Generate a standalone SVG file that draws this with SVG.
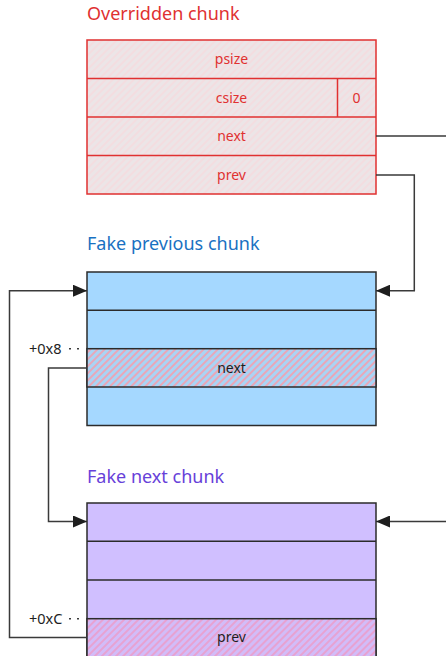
<svg xmlns="http://www.w3.org/2000/svg" width="446" height="656" viewBox="0 0 446 656">
  <style>
    text { font-family: "Noto Sans", "Liberation Sans", sans-serif; }
    .title { font-size: 18px; }
    .lbl { font-size: 14px; text-anchor: middle; }
    .off { font-size: 14.5px; fill: #1e1e1e; }
    .red-box { stroke: #e03131; stroke-width: 1.5; }
    .dark-box { stroke: #2b2b2b; stroke-width: 1.5; }
    .conn { fill: none; stroke: #3a3a3a; stroke-width: 1.5; }
    .dots { stroke: #3a3a3a; stroke-width: 1.5; stroke-dasharray: 2 6; }
  </style>
  <defs>
    <pattern id="hatchRed" width="5" height="5" patternUnits="userSpaceOnUse" patternTransform="rotate(45)">
      <rect width="5" height="5" fill="#ece5e7"/>
      <rect width="2" height="5" fill="#f3dde0"/>
    </pattern>
    <pattern id="hatchBlue" width="5" height="5" patternUnits="userSpaceOnUse" patternTransform="rotate(45)">
      <rect width="5" height="5" fill="#a9d4f5"/>
      <rect width="2" height="5" fill="#e8a7b8"/>
    </pattern>
    <pattern id="hatchPurple" width="5" height="5" patternUnits="userSpaceOnUse" patternTransform="rotate(45)">
      <rect width="5" height="5" fill="#d2bcf8"/>
      <rect width="2" height="5" fill="#e7a2d2"/>
    </pattern>
    <marker id="arrow" viewBox="0 0 14 12" refX="14" refY="6" markerWidth="14" markerHeight="12" markerUnits="userSpaceOnUse" orient="auto">
      <path d="M0,0 L14,6 L0,12 Z" fill="#1e1e1e"/>
    </marker>
  </defs>

  <!-- overridden chunk -->
  <g id="overridden-chunk">
    <text class="title" x="87" y="20" fill="#e03131">Overridden chunk</text>
    <rect x="87" y="40" width="289" height="154" fill="url(#hatchRed)" class="red-box"/>
    <line x1="87" y1="78.5" x2="376" y2="78.5" class="red-box"/>
    <line x1="87" y1="117" x2="376" y2="117" class="red-box"/>
    <line x1="87" y1="155.5" x2="376" y2="155.5" class="red-box"/>
    <line x1="337.5" y1="78.5" x2="337.5" y2="117" class="red-box"/>
    <g fill="#e03131">
      <text class="lbl" x="231.5" y="64">psize</text>
      <text class="lbl" x="231.5" y="103">csize</text>
      <text class="lbl" x="356.5" y="103">0</text>
      <text class="lbl" x="231.5" y="141">next</text>
      <text class="lbl" x="231.5" y="180">prev</text>
    </g>
  </g>

  <!-- fake previous chunk -->
  <g id="fake-prev-chunk">
    <text class="title" x="87" y="250" fill="#1971c2">Fake previous chunk</text>
    <rect x="87" y="272" width="289" height="153.5" fill="#a5d8ff" class="dark-box"/>
    <rect x="87" y="348.7" width="289" height="38.3" fill="url(#hatchBlue)" class="dark-box"/>
    <line x1="87" y1="310.3" x2="376" y2="310.3" class="dark-box"/>
    <text class="lbl" x="231.5" y="373" fill="#1e1e1e">next</text>
    <text class="off" x="29" y="353.5">+0x8</text>
    <line x1="69" y1="348.7" x2="81" y2="348.7" class="dots"/>
  </g>

  <!-- fake next chunk -->
  <g id="fake-next-chunk">
    <text class="title" x="87" y="483" fill="#6741d9">Fake next chunk</text>
    <rect x="87" y="503" width="289" height="160" fill="#d0bfff" class="dark-box"/>
    <rect x="87" y="618.7" width="289" height="44" fill="url(#hatchPurple)" class="dark-box"/>
    <line x1="87" y1="541.3" x2="376" y2="541.3" class="dark-box"/>
    <line x1="87" y1="580" x2="376" y2="580" class="dark-box"/>
    <text class="lbl" x="231.5" y="642" fill="#1e1e1e">prev</text>
    <text class="off" x="29" y="623.5">+0xC</text>
    <line x1="69" y1="618.7" x2="81" y2="618.7" class="dots"/>
  </g>

  <!-- connectors -->
  <g id="connectors">
    <path class="conn" d="M376,136 L446,136"/>
    <path class="conn" d="M446,521.5 L376,521.5" marker-end="url(#arrow)"/>
    <path class="conn" d="M376,175 L414.3,175 L414.3,290.7 L376,290.7" marker-end="url(#arrow)"/>
    <path class="conn" d="M87,368 L48.5,368 L48.5,521.5 L87,521.5" marker-end="url(#arrow)"/>
    <path class="conn" d="M87,637.5 L9.5,637.5 L9.5,290.7 L87,290.7" marker-end="url(#arrow)"/>
  </g>
</svg>
